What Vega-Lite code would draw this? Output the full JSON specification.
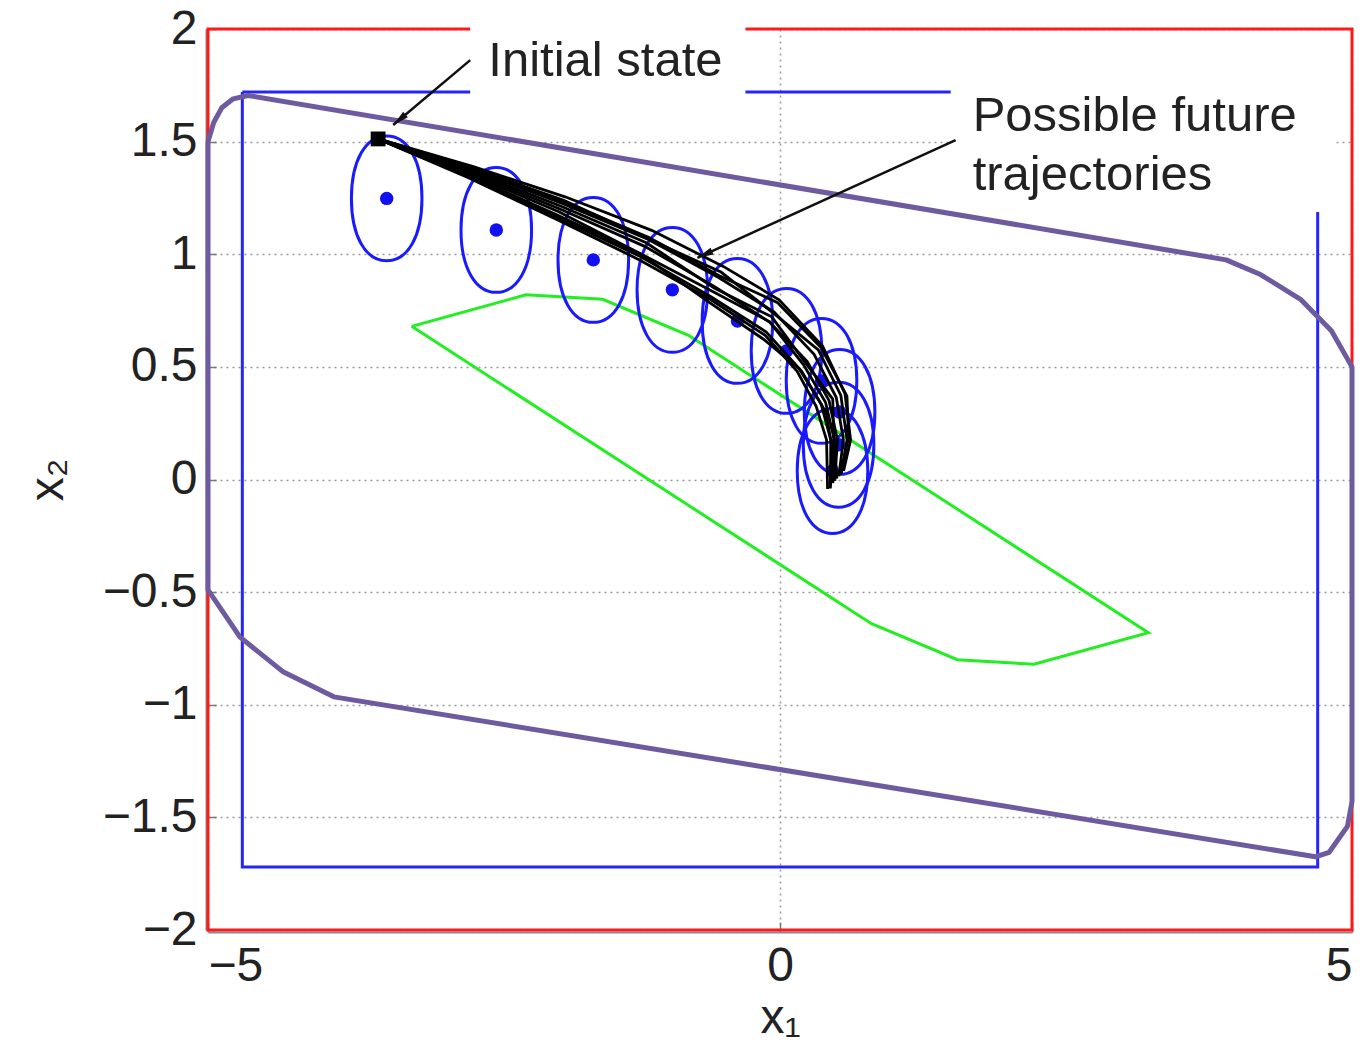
{
  "$schema": "https://vega.github.io/schema/vega-lite/v6.json",
  "autosize": {"type": "none"},
  "padding": {"left": 208, "top": 29, "right": 11, "bottom": 120},
  "width": 1144,
  "height": 901,
  "background": "white",
  "config": {"view": {"stroke": null}, "font": "Liberation Sans"},
  "datasets": {
    "frame": [{"x": -5, "x2": 5, "y": -2, "y2": 2}],
    "bluebox": [
      {"i": 0, "x": -4.7, "y": 1.72},
      {"i": 1, "x": -4.7, "y": -1.72},
      {"i": 2, "x": 4.7, "y": -1.72},
      {"i": 3, "x": 4.7, "y": 1.72},
      {"i": 4, "x": -4.7, "y": 1.72}
    ],
    "boxes": [
      {"x": -2.708, "x2": -0.302, "y": 1.685, "y2": 2.084},
      {"x": 1.492, "x2": 4.86, "y": 1.188, "y2": 1.862}
    ],
    "purple": [
      {"i": 0, "x": -5.0, "y": 1.5},
      {"i": 1, "x": -4.95, "y": 1.585},
      {"i": 2, "x": -4.88, "y": 1.65},
      {"i": 3, "x": -4.78, "y": 1.69},
      {"i": 4, "x": -4.65, "y": 1.705},
      {"i": 5, "x": 3.9, "y": 0.975},
      {"i": 6, "x": 4.2, "y": 0.91},
      {"i": 7, "x": 4.55, "y": 0.8},
      {"i": 8, "x": 4.82, "y": 0.66},
      {"i": 9, "x": 5.0, "y": 0.5},
      {"i": 10, "x": 5.0, "y": -1.43},
      {"i": 11, "x": 4.96, "y": -1.54},
      {"i": 12, "x": 4.8, "y": -1.655},
      {"i": 13, "x": 4.68, "y": -1.675},
      {"i": 14, "x": -3.9, "y": -0.965},
      {"i": 15, "x": -4.34, "y": -0.855},
      {"i": 16, "x": -4.72, "y": -0.7},
      {"i": 17, "x": -5.0, "y": -0.49},
      {"i": 18, "x": -5.0, "y": 1.5}
    ],
    "green": [
      {"i": 0, "x": -3.22, "y": 0.68},
      {"i": 1, "x": -2.22, "y": 0.82},
      {"i": 2, "x": -1.55, "y": 0.8},
      {"i": 3, "x": -0.8, "y": 0.64},
      {"i": 4, "x": 3.22, "y": -0.68},
      {"i": 5, "x": 2.22, "y": -0.82},
      {"i": 6, "x": 1.55, "y": -0.8},
      {"i": 7, "x": 0.8, "y": -0.64},
      {"i": 8, "x": -3.22, "y": 0.68}
    ],
    "tubes": [
      {"k": 1, "x": -3.438, "y": 1.248},
      {"k": 2, "x": -2.48, "y": 1.108},
      {"k": 3, "x": -1.632, "y": 0.975},
      {"k": 4, "x": -0.941, "y": 0.842},
      {"k": 5, "x": -0.372, "y": 0.704},
      {"k": 6, "x": 0.057, "y": 0.571},
      {"k": 7, "x": 0.363, "y": 0.438},
      {"k": 8, "x": 0.521, "y": 0.3},
      {"k": 9, "x": 0.512, "y": 0.154},
      {"k": 10, "x": 0.459, "y": 0.038}
    ],
    "traj": [
      {"traj": "a", "t": 0, "x": -3.513, "y": 1.512},
      {"traj": "a", "t": 1, "x": -2.729, "y": 1.341},
      {"traj": "a", "t": 2, "x": -1.961, "y": 1.157},
      {"traj": "a", "t": 3, "x": -1.232, "y": 0.976},
      {"traj": "a", "t": 4, "x": -0.61, "y": 0.8},
      {"traj": "a", "t": 5, "x": -0.13, "y": 0.64},
      {"traj": "a", "t": 6, "x": 0.15, "y": 0.48},
      {"traj": "a", "t": 7, "x": 0.316, "y": 0.325},
      {"traj": "a", "t": 8, "x": 0.407, "y": 0.176},
      {"traj": "a", "t": 9, "x": 0.416, "y": -0.042},
      {"traj": "b", "t": 0, "x": -3.513, "y": 1.512},
      {"traj": "b", "t": 1, "x": -2.721, "y": 1.349},
      {"traj": "b", "t": 2, "x": -1.947, "y": 1.174},
      {"traj": "b", "t": 3, "x": -1.213, "y": 0.999},
      {"traj": "b", "t": 4, "x": -0.628, "y": 0.79},
      {"traj": "b", "t": 5, "x": -0.15, "y": 0.625},
      {"traj": "b", "t": 6, "x": 0.169, "y": 0.491},
      {"traj": "b", "t": 7, "x": 0.36, "y": 0.335},
      {"traj": "b", "t": 8, "x": 0.444, "y": 0.176},
      {"traj": "b", "t": 9, "x": 0.441, "y": -0.028},
      {"traj": "c", "t": 0, "x": -3.513, "y": 1.512},
      {"traj": "c", "t": 1, "x": -2.715, "y": 1.356},
      {"traj": "c", "t": 2, "x": -1.934, "y": 1.189},
      {"traj": "c", "t": 3, "x": -1.21, "y": 1.0},
      {"traj": "c", "t": 4, "x": -0.588, "y": 0.835},
      {"traj": "c", "t": 5, "x": -0.09, "y": 0.7},
      {"traj": "c", "t": 6, "x": 0.206, "y": 0.509},
      {"traj": "c", "t": 7, "x": 0.398, "y": 0.343},
      {"traj": "c", "t": 8, "x": 0.475, "y": 0.176},
      {"traj": "c", "t": 9, "x": 0.462, "y": -0.016},
      {"traj": "d", "t": 0, "x": -3.513, "y": 1.512},
      {"traj": "d", "t": 1, "x": -2.71, "y": 1.363},
      {"traj": "d", "t": 2, "x": -1.924, "y": 1.201},
      {"traj": "d", "t": 3, "x": -1.183, "y": 1.035},
      {"traj": "d", "t": 4, "x": -0.571, "y": 0.856},
      {"traj": "d", "t": 5, "x": -0.091, "y": 0.699},
      {"traj": "d", "t": 6, "x": 0.237, "y": 0.525},
      {"traj": "d", "t": 7, "x": 0.429, "y": 0.35},
      {"traj": "d", "t": 8, "x": 0.502, "y": 0.176},
      {"traj": "d", "t": 9, "x": 0.479, "y": -0.006},
      {"traj": "e", "t": 0, "x": -3.513, "y": 1.512},
      {"traj": "e", "t": 1, "x": -2.705, "y": 1.369},
      {"traj": "e", "t": 2, "x": -1.914, "y": 1.213},
      {"traj": "e", "t": 3, "x": -1.169, "y": 1.051},
      {"traj": "e", "t": 4, "x": -0.575, "y": 0.85},
      {"traj": "e", "t": 5, "x": -0.072, "y": 0.722},
      {"traj": "e", "t": 6, "x": 0.22, "y": 0.52},
      {"traj": "e", "t": 7, "x": 0.461, "y": 0.357},
      {"traj": "e", "t": 8, "x": 0.47, "y": 0.18},
      {"traj": "e", "t": 9, "x": 0.497, "y": 0.004},
      {"traj": "f", "t": 0, "x": -3.513, "y": 1.512},
      {"traj": "f", "t": 1, "x": -2.699, "y": 1.375},
      {"traj": "f", "t": 2, "x": -1.904, "y": 1.226},
      {"traj": "f", "t": 3, "x": -1.155, "y": 1.067},
      {"traj": "f", "t": 4, "x": -0.537, "y": 0.897},
      {"traj": "f", "t": 5, "x": -0.053, "y": 0.744},
      {"traj": "f", "t": 6, "x": 0.298, "y": 0.556},
      {"traj": "f", "t": 7, "x": 0.492, "y": 0.364},
      {"traj": "f", "t": 8, "x": 0.554, "y": 0.176},
      {"traj": "f", "t": 9, "x": 0.514, "y": 0.014},
      {"traj": "g", "t": 0, "x": -3.513, "y": 1.512},
      {"traj": "g", "t": 1, "x": -2.694, "y": 1.382},
      {"traj": "g", "t": 2, "x": -1.891, "y": 1.24},
      {"traj": "g", "t": 3, "x": -1.16, "y": 1.07},
      {"traj": "g", "t": 4, "x": -0.516, "y": 0.921},
      {"traj": "g", "t": 5, "x": -0.06, "y": 0.74},
      {"traj": "g", "t": 6, "x": 0.335, "y": 0.575},
      {"traj": "g", "t": 7, "x": 0.532, "y": 0.373},
      {"traj": "g", "t": 8, "x": 0.586, "y": 0.176},
      {"traj": "g", "t": 9, "x": 0.535, "y": 0.026},
      {"traj": "h", "t": 0, "x": -3.513, "y": 1.512},
      {"traj": "h", "t": 1, "x": -2.688, "y": 1.39},
      {"traj": "h", "t": 2, "x": -1.879, "y": 1.255},
      {"traj": "h", "t": 3, "x": -1.122, "y": 1.106},
      {"traj": "h", "t": 4, "x": -0.496, "y": 0.946},
      {"traj": "h", "t": 5, "x": -0.008, "y": 0.798},
      {"traj": "h", "t": 6, "x": 0.372, "y": 0.593},
      {"traj": "h", "t": 7, "x": 0.568, "y": 0.381},
      {"traj": "h", "t": 8, "x": 0.617, "y": 0.176},
      {"traj": "h", "t": 9, "x": 0.556, "y": 0.038},
      {"traj": "i", "t": 0, "x": -3.513, "y": 1.512},
      {"traj": "i", "t": 1, "x": -2.69, "y": 1.386},
      {"traj": "i", "t": 2, "x": -1.9, "y": 1.235},
      {"traj": "i", "t": 3, "x": -1.15, "y": 1.075},
      {"traj": "i", "t": 4, "x": -0.53, "y": 0.905},
      {"traj": "i", "t": 5, "x": -0.02, "y": 0.785},
      {"traj": "i", "t": 6, "x": 0.36, "y": 0.585},
      {"traj": "i", "t": 7, "x": 0.585, "y": 0.37},
      {"traj": "i", "t": 8, "x": 0.6, "y": 0.19},
      {"traj": "i", "t": 9, "x": 0.53, "y": 0.02},
      {"traj": "j", "t": 0, "x": -3.513, "y": 1.512},
      {"traj": "j", "t": 1, "x": -2.725, "y": 1.345},
      {"traj": "j", "t": 2, "x": -1.955, "y": 1.165},
      {"traj": "j", "t": 3, "x": -1.22, "y": 0.99},
      {"traj": "j", "t": 4, "x": -0.6, "y": 0.81},
      {"traj": "j", "t": 5, "x": -0.12, "y": 0.655},
      {"traj": "j", "t": 6, "x": 0.19, "y": 0.48},
      {"traj": "j", "t": 7, "x": 0.4, "y": 0.3},
      {"traj": "j", "t": 8, "x": 0.46, "y": 0.13},
      {"traj": "j", "t": 9, "x": 0.44, "y": -0.04}
    ],
    "start": [{"x": -3.513, "y": 1.512}],
    "arrows": [
      {"arrow": "initial", "i": 0, "x": -2.708, "y": 1.862},
      {"arrow": "initial", "i": 1, "x": -3.381, "y": 1.574},
      {"arrow": "future", "i": 0, "x": 1.535, "y": 1.507},
      {"arrow": "future", "i": 1, "x": -0.722, "y": 0.984}
    ],
    "labels": [
      {"label": "Initial state", "x": -2.55, "y": 1.791},
      {"label": "Possible future", "x": 1.684, "y": 1.547},
      {"label": "trajectories", "x": 1.684, "y": 1.285}
    ]
  },
  "encoding": {
    "x": {
      "field": "x", "type": "quantitative",
      "scale": {"domain": [-5, 5], "nice": false, "zero": false},
      "axis": {
        "title": "x₁", "values": [-5, 0, 5], "format": "~g",
        "grid": true, "gridDash": [2, 4], "gridColor": "#999999", "gridWidth": 1.5,
        "domain": true, "domainColor": "#8a8a8a", "domainWidth": 2, "offset": 2,
        "ticks": true, "tickSize": -10, "tickColor": "#777777", "tickWidth": 1.5,
        "labelPadding": 20, "labelFontSize": 48, "labelColor": "#222222", "labelFont": "Liberation Sans",
        "titleFontSize": 48, "titleFontWeight": "normal", "titleColor": "#222222", "titleFont": "Liberation Sans", "titlePadding": 4
      }
    },
    "y": {
      "field": "y", "type": "quantitative",
      "scale": {"domain": [-2, 2], "nice": false, "zero": false},
      "axis": {
        "title": "x₂", "values": [-2, -1.5, -1, -0.5, 0, 0.5, 1, 1.5, 2], "format": "~g",
        "grid": true, "gridDash": [2, 4], "gridColor": "#999999", "gridWidth": 1.5,
        "domain": true, "domainColor": "#8a8a8a", "domainWidth": 2, "offset": 2,
        "ticks": true, "tickSize": -10, "tickColor": "#777777", "tickWidth": 1.5,
        "labelPadding": 19, "labelFontSize": 48, "labelColor": "#222222", "labelFont": "Liberation Sans",
        "titleFontSize": 48, "titleFontWeight": "normal", "titleColor": "#222222", "titleFont": "Liberation Sans", "titlePadding": 30
      }
    }
  },
  "layer": [
    {
      "data": {"name": "frame"},
      "mark": {"type": "rect", "fill": null, "stroke": "#ff1a1a", "strokeWidth": 3},
      "encoding": {"x2": {"field": "x2"}, "y2": {"field": "y2"}}
    },
    {
      "data": {"name": "bluebox"},
      "mark": {"type": "line", "color": "#2424ff", "strokeWidth": 3},
      "encoding": {"order": {"field": "i", "type": "quantitative"}}
    },
    {
      "data": {"name": "boxes"},
      "mark": {"type": "rect", "fill": "white", "stroke": null},
      "encoding": {"x2": {"field": "x2"}, "y2": {"field": "y2"}}
    },
    {
      "data": {"name": "purple"},
      "mark": {"type": "line", "color": "#6e5a9e", "strokeWidth": 5, "strokeJoin": "round"},
      "encoding": {"order": {"field": "i", "type": "quantitative"}}
    },
    {
      "data": {"name": "green"},
      "mark": {"type": "line", "color": "#22ee22", "strokeWidth": 3},
      "encoding": {"order": {"field": "i", "type": "quantitative"}}
    },
    {
      "data": {"name": "tubes"},
      "mark": {
        "type": "point", "filled": false, "stroke": "#1a1aff", "strokeWidth": 3, "opacity": 1,
        "shape": "M 0,-1 C 0.339,-1 0.565,-0.6 0.565,0 C 0.565,0.6 0.339,1 0,1 C -0.339,1 -0.565,0.6 -0.565,0 C -0.565,-0.6 -0.339,-1 0,-1 Z",
        "size": 15600
      }
    },
    {
      "data": {"name": "tubes"},
      "mark": {"type": "point", "filled": true, "color": "#1010f0", "opacity": 1, "shape": "circle", "size": 180}
    },
    {
      "data": {"name": "traj"},
      "mark": {"type": "line", "color": "#000000", "strokeWidth": 2.8},
      "encoding": {
        "detail": {"field": "traj", "type": "nominal"},
        "order": {"field": "t", "type": "quantitative"}
      }
    },
    {
      "data": {"name": "start"},
      "mark": {"type": "point", "filled": true, "color": "#000000", "opacity": 1, "shape": "square", "size": 220}
    },
    {
      "data": {"name": "arrows"},
      "mark": {"type": "line", "color": "#111111", "strokeWidth": 2.5},
      "encoding": {
        "detail": {"field": "arrow", "type": "nominal"},
        "order": {"field": "i", "type": "quantitative"}
      }
    },
    {
      "data": {"name": "arrows"},
      "transform": [{"filter": "datum.arrow == 'initial' && datum.i == 1"}],
      "mark": {"type": "point", "filled": true, "color": "#111111", "opacity": 1, "shape": "M -0.45,2 L 0,0 L 0.45,2 Z", "size": 260, "angle": 229.8}
    },
    {
      "data": {"name": "arrows"},
      "transform": [{"filter": "datum.arrow == 'future' && datum.i == 1"}],
      "mark": {"type": "point", "filled": true, "color": "#111111", "opacity": 1, "shape": "M -0.45,2 L 0,0 L 0.45,2 Z", "size": 260, "angle": 245.4}
    },
    {
      "data": {"name": "labels"},
      "mark": {"type": "text", "align": "left", "baseline": "alphabetic", "fontSize": 49, "font": "Liberation Sans", "color": "#222222"},
      "encoding": {"text": {"field": "label", "type": "nominal"}}
    }
  ]
}
